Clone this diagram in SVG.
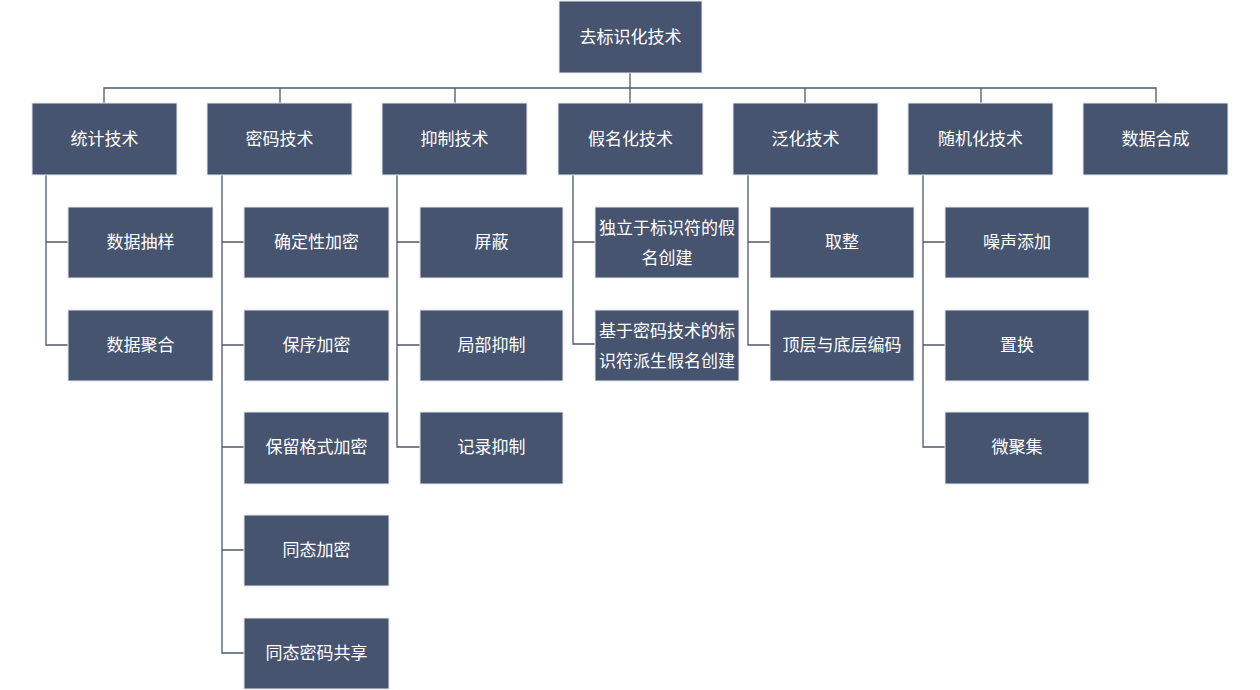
<svg xmlns="http://www.w3.org/2000/svg" width="1260" height="690" viewBox="0 0 1260 690">
<style>
.n{fill:#465470;stroke:#e4e7ec;stroke-width:1}
.t{fill:#ffffff;font-family:"Noto Sans CJK SC","Liberation Sans",sans-serif;font-size:17px;text-anchor:middle;dominant-baseline:central}
.c{fill:none;stroke:#4f5869;stroke-width:1.3}
</style>
<rect width="1260" height="690" fill="#ffffff"/>
<g id="connectors">
<path class="c" d="M630,73V103M104,103V88H1156V103M280,88V103M455,88V103M805,88V103M981,88V103"/>
<path class="c" d="M46,175V345H68M46,242H68"/>
<path class="c" d="M222,175V653H244M222,242H244M222,345H244M222,447H244M222,550H244"/>
<path class="c" d="M397,175V447H420M397,242H420M397,345H420"/>
<path class="c" d="M573,175V344H595M573,242H595"/>
<path class="c" d="M748,175V345H770M748,242H770"/>
<path class="c" d="M923,175V447H945M923,242H945M923,345H945"/>
</g>
<g id="root"><rect class="n" x="559" y="1" width="143" height="72"/><text class="t" x="630.5" y="35">去标识化技术</text></g>
<g id="n1"><rect class="n" x="32" y="103" width="145" height="72"/><text class="t" x="104.5" y="137">统计技术</text></g>
<g id="n2"><rect class="n" x="207" y="103" width="145" height="72"/><text class="t" x="279.5" y="137">密码技术</text></g>
<g id="n3"><rect class="n" x="382" y="103" width="145" height="72"/><text class="t" x="454.5" y="137">抑制技术</text></g>
<g id="n4"><rect class="n" x="558" y="103" width="145" height="72"/><text class="t" x="630.5" y="137">假名化技术</text></g>
<g id="n5"><rect class="n" x="733" y="103" width="145" height="72"/><text class="t" x="805.5" y="137">泛化技术</text></g>
<g id="n6"><rect class="n" x="908" y="103" width="145" height="72"/><text class="t" x="980.5" y="137">随机化技术</text></g>
<g id="n7"><rect class="n" x="1083" y="103" width="145" height="72"/><text class="t" x="1155.5" y="137">数据合成</text></g>

<g id="n1a"><rect class="n" x="68" y="207" width="145" height="71"/><text class="t" x="140.5" y="240">数据抽样</text></g>
<g id="n1b"><rect class="n" x="68" y="310" width="145" height="71"/><text class="t" x="140.5" y="343">数据聚合</text></g>

<g id="n2a"><rect class="n" x="244" y="207" width="145" height="71"/><text class="t" x="316.5" y="240">确定性加密</text></g>
<g id="n2b"><rect class="n" x="244" y="310" width="145" height="71"/><text class="t" x="316.5" y="343">保序加密</text></g>
<g id="n2c"><rect class="n" x="244" y="412" width="145" height="72"/><text class="t" x="316.5" y="445">保留格式加密</text></g>
<g id="n2d"><rect class="n" x="244" y="515" width="145" height="71"/><text class="t" x="316.5" y="548">同态加密</text></g>
<g id="n2e"><rect class="n" x="244" y="618" width="145" height="71"/><text class="t" x="316.5" y="651">同态密码共享</text></g>

<g id="n3a"><rect class="n" x="420" y="207" width="143" height="71"/><text class="t" x="491.5" y="240">屏蔽</text></g>
<g id="n3b"><rect class="n" x="420" y="310" width="143" height="71"/><text class="t" x="491.5" y="343">局部抑制</text></g>
<g id="n3c"><rect class="n" x="420" y="412" width="143" height="72"/><text class="t" x="491.5" y="445">记录抑制</text></g>

<g id="n4a"><rect class="n" x="595" y="207" width="144" height="71"/><text class="t" x="667" y="226">独立于标识符的假</text><text class="t" x="667" y="256">名创建</text></g>
<g id="n4b"><rect class="n" x="595" y="310" width="144" height="71"/><text class="t" x="667" y="329">基于密码技术的标</text><text class="t" x="667" y="359">识符派生假名创建</text></g>

<g id="n5a"><rect class="n" x="770" y="207" width="144" height="71"/><text class="t" x="842" y="240">取整</text></g>
<g id="n5b"><rect class="n" x="770" y="310" width="144" height="71"/><text class="t" x="842" y="343">顶层与底层编码</text></g>

<g id="n6a"><rect class="n" x="945" y="207" width="144" height="71"/><text class="t" x="1017" y="240">噪声添加</text></g>
<g id="n6b"><rect class="n" x="945" y="310" width="144" height="71"/><text class="t" x="1017" y="343">置换</text></g>
<g id="n6c"><rect class="n" x="945" y="412" width="144" height="72"/><text class="t" x="1017" y="445">微聚集</text></g>
</svg>
